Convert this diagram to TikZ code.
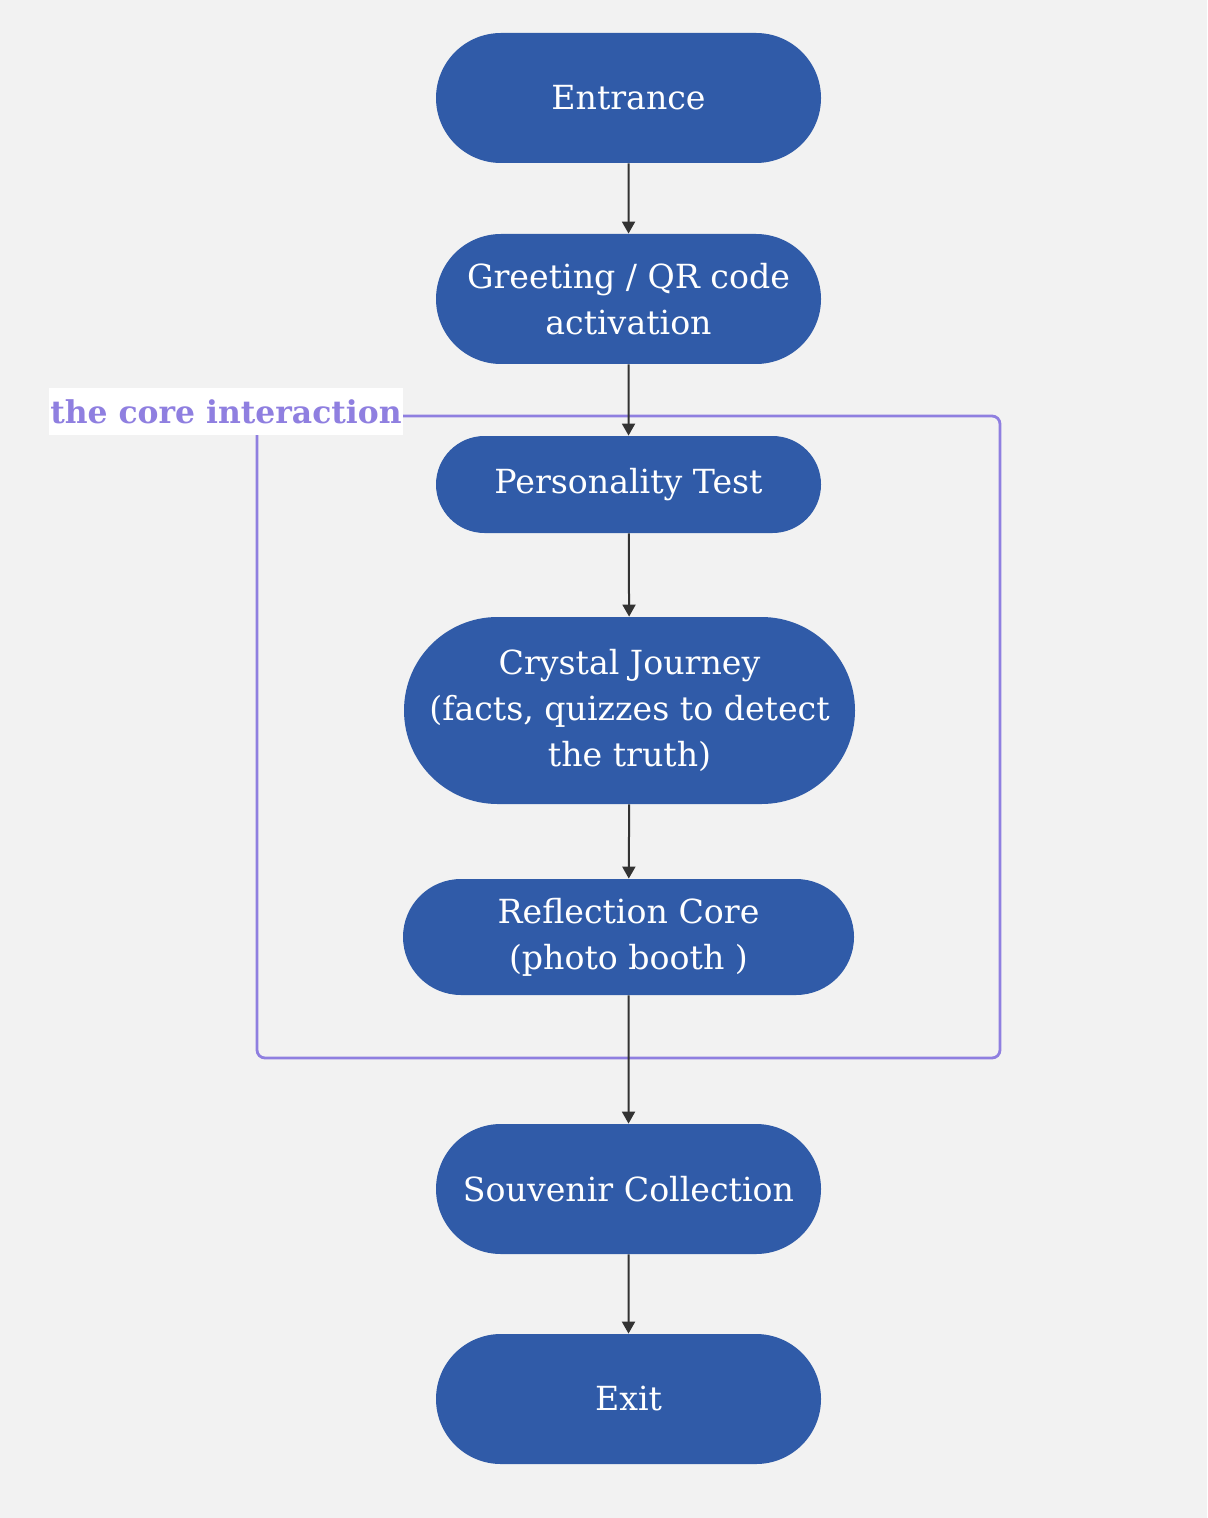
\documentclass[tikz,border=0pt]{standalone}
\usepackage{fontspec}
\setmainfont{DejaVu Serif}
\usepackage{xcolor}
\usetikzlibrary{shapes.misc, arrows.meta, positioning}
\definecolor{stageblue}{RGB}{48, 91, 168}
\definecolor{framepurple}{RGB}{143, 127, 224}
\definecolor{linegray}{RGB}{51, 51, 51}
\definecolor{canvasgray}{RGB}{242, 242, 242}
\tikzset{
    stagebox/.style={rounded rectangle, fill=stageblue, text=white, minimum width=192.5pt, minimum height=65pt, font=\fontsize{16.6}{23}\selectfont, align=center, inner sep=0pt},
    widebox/.style={stagebox, minimum width=225.5pt},
    flowarrow/.style={-{Triangle[length=6pt, width=6.5pt]}, line width=1pt, draw=linegray},
    groupframe/.style={draw=framepurple, line width=1.4pt, rounded corners=4pt},
    grouplabel/.style={fill=white, text=framepurple, font=\fontsize{15.7}{18}\selectfont\bfseries, inner sep=0pt, minimum width=177pt, minimum height=23.5pt},
}
\begin{document}
\begin{tikzpicture}[x=0.5pt, y=-0.5pt]
    % Canvas
    \fill[canvasgray] (0, 0) rectangle (1207, 1518);

    % Core interaction frame
    \draw[groupframe] (257, 416) rectangle (1000, 1058);
    \node[grouplabel] (corelabel) at (226, 411.5) {the core interaction};

    % Entrance
    \node[stagebox] (entrance) at (628.5, 98) {Entrance};

    % Greeting
    \node[stagebox] (greeting) at (628.5, 299) {Greeting / QR code\\activation};

    % Personality test
    \node[stagebox, minimum height=48.5pt] (test) at (628.5, 484.5) {Personality Test};

    % Crystal journey
    \node[widebox, minimum height=93.5pt] (journey) at (629.5, 710.5) {Crystal Journey\\(facts, quizzes to detect\\the truth)};

    % Reflection core
    \node[widebox, minimum height=58pt] (reflection) at (628.5, 937) {Reflection Core\\(photo booth )};

    % Souvenir collection
    \node[stagebox] (souvenir) at (628.5, 1189) {Souvenir Collection};

    % Exit
    \node[stagebox] (exit) at (628.5, 1399) {Exit};

    % Arrows
    \draw[flowarrow] (entrance) -- (greeting);
    \draw[flowarrow] (greeting) -- (test);
    \draw[flowarrow] (test) -- (journey);
    \draw[flowarrow] (journey) -- (reflection);
    \draw[flowarrow] (reflection) -- (souvenir);
    \draw[flowarrow] (souvenir) -- (exit);
\end{tikzpicture}
\end{document}
